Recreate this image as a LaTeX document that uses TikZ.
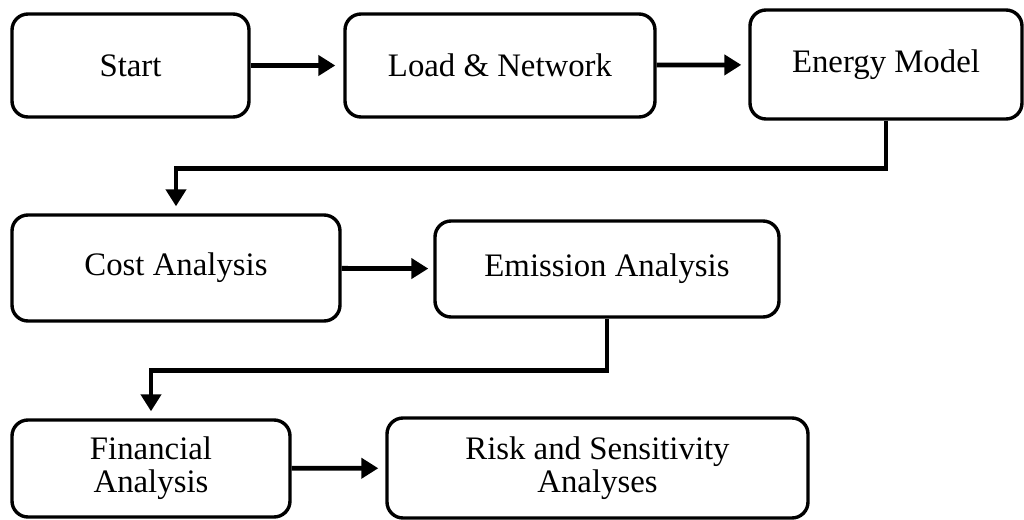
\documentclass[tikz,border=0pt]{standalone}
\usepackage{fontspec}
\setmainfont{Liberation Serif}
\usetikzlibrary{arrows.meta}
\begin{document}
\begin{tikzpicture}[x=0.5pt,y=-0.5pt,
  stepbox/.style={draw=black, line width=1.7pt, rounded corners=8pt, fill=white,
    align=center, inner sep=0pt, font=\fontsize{16.4}{16.5}\selectfont},
  flow/.style={line width=2.4pt, -{Triangle[length=8.5pt,width=10pt]}}]
  \useasboundingbox (0,0) rectangle (1024,520);

  % process steps
  \node[stepbox, minimum width=118.5pt, minimum height=51.5pt] (start) at (130.5,65.5) {Start};
  \node[stepbox, minimum width=155pt, minimum height=51.5pt] (load) at (500,65.5) {Load \& Network};
  \node[stepbox, minimum width=136pt, minimum height=54.5pt] (energy) at (886,64.5) {Energy Model};
  \node[stepbox, minimum width=164pt, minimum height=53pt] (cost) at (176,268) {Cost Analysis};
  \node[stepbox, minimum width=172pt, minimum height=48pt] (emission) at (607,269) {Emission Analysis};
  \node[stepbox, minimum width=139pt, minimum height=48.5pt] (financial) at (151,468.5) {Financial\\Analysis};
  \node[stepbox, minimum width=210.5pt, minimum height=50pt] (risk) at (597.5,468) {Risk and Sensitivity\\Analyses};

  % connectors
  \draw[flow, shorten >=4pt] (start) -- (load);
  \draw[flow, shorten >=3.5pt] (load) -- (energy);
  \draw[flow, shorten >=3.5pt] (energy.south) -- ++(0,48) -| (cost.north);
  \draw[flow, shorten >=2.5pt] (cost) -- (emission);
  \draw[flow, shorten >=3.5pt] (emission.south) -- ++(0,52) -| (financial.north);
  \draw[flow, shorten >=3.5pt] (financial) -- (risk);
\end{tikzpicture}
\end{document}
